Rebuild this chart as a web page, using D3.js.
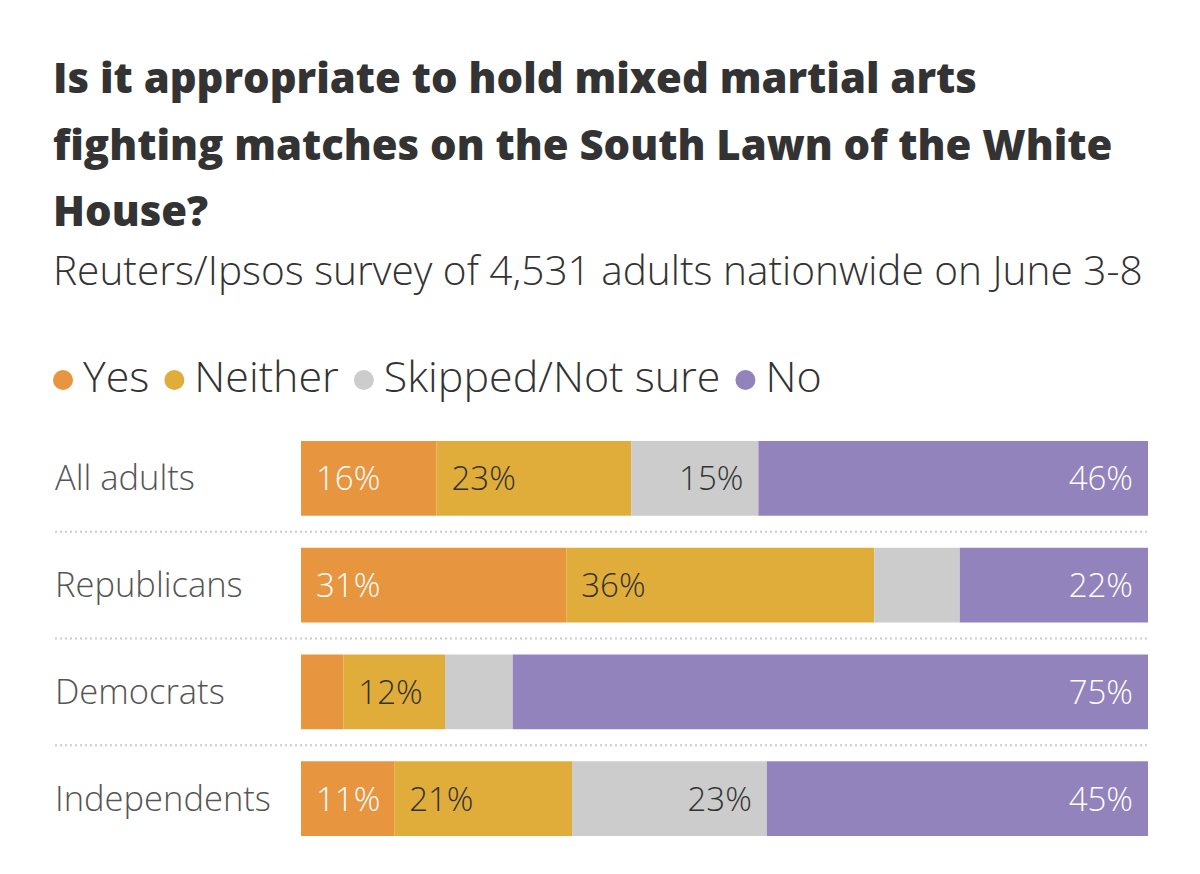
<!DOCTYPE html>
<html><head><meta charset="utf-8">
<script src="https://cdn.jsdelivr.net/npm/d3@7"></script>
<style>body{margin:0;background:#fff}</style></head>
<body><svg id="c" width="1200" height="874"></svg>
<script>
const categories = ["All adults","Republicans","Democrats","Independents"];
const seriesNames = ["Yes","Neither","Skipped/Not sure","No"];
const yes =     [16,31,5,11];
const neither = [23,36,12,21];
const skipped = [15,10,8,23];
const no =      [46,22,75,45];
const showLabel = [[1,1,1,1],[1,1,0,1],[0,1,0,1],[1,1,1,1]];
const colors = ["#e8953f","#e0ad3a","#cccccc","#9383bd"];
const textColors = ["#fff","#333","#333","#fff"];

const svg = d3.select("#c");
const font = "'Open Sans', sans-serif";
function fit(sel, w){ const l = sel.node().getComputedTextLength(); sel.attr("font-size", +sel.attr("font-size")*w/l); }
const title = ["Is it appropriate to hold mixed martial arts","fighting matches on the South Lawn of the White","House?"];
const tt = svg.selectAll("text.t").data(title).join("text").attr("x",53).attr("y",(d,i)=>93+i*66.5)
  .text(d=>d).attr("font-family",font).attr("font-weight",800).attr("font-size",37).attr("fill","#333");
const t0 = d3.select(tt.nodes()[0]); fit(t0, 924);
tt.attr("font-size", t0.attr("font-size"));
const sub = svg.append("text").attr("x",53).attr("y",285).text("Reuters/Ipsos survey of 4,531 adults nationwide on June 3-8")
  .attr("font-family",font).attr("font-weight",300).attr("font-size",32).attr("fill","#333");
fit(sub, 1090);

// legend
let lx = 63;
seriesNames.forEach((n,i)=>{
  svg.append("circle").attr("cx",lx).attr("cy",380).attr("r",10).attr("fill",colors[i]);
  const t = svg.append("text").attr("x",lx+20).attr("y",392).text(n)
    .attr("font-family",font).attr("font-weight",300).attr("font-size",+sub.attr("font-size")*1.06).attr("fill","#333");
  lx += 20 + t.node().getComputedTextLength() + 25;
});

const series = [yes,neither,skipped,no];
const x = d3.scaleLinear().domain([0,1]).range([301,1148]);
const y = d3.scaleBand().domain(categories).range([441,836]).paddingInner(0.3).paddingOuter(0);

categories.forEach((c,r)=>{
  const total = d3.sum(series, s=>s[r]);
  let acc = 0;
  svg.append("text").attr("x",55).attr("y",y(c)+y.bandwidth()/2+12).text(c)
    .attr("font-family",font).attr("font-weight",300).attr("font-size",34.5).attr("fill","#555");
  series.forEach((s,i)=>{
    const x0 = x(acc/total), x1 = x((acc+s[r])/total);
    acc += s[r];
    svg.append("rect").attr("x",x0).attr("y",y(c)).attr("width",x1-x0).attr("height",y.bandwidth()).attr("fill",colors[i]);
    if(showLabel[r][i]){
      const right = i>=2;
      svg.append("text").attr("x", right? x1-15 : x0+15).attr("y",y(c)+y.bandwidth()/2+12)
        .attr("text-anchor", right?"end":"start").text(s[r]+"%")
        .attr("font-family",font).attr("font-weight",300).attr("font-size",33).attr("fill",textColors[i]);
    }
  });
  if(r<categories.length-1){
    const ly = y(c)+y.bandwidth()+ (y.step()-y.bandwidth())/2;
    svg.append("line").attr("x1",55).attr("x2",1148).attr("y1",ly).attr("y2",ly)
      .attr("stroke","#ccc").attr("stroke-width",2).attr("stroke-dasharray","2,3");
  }
});
</script></body></html>
